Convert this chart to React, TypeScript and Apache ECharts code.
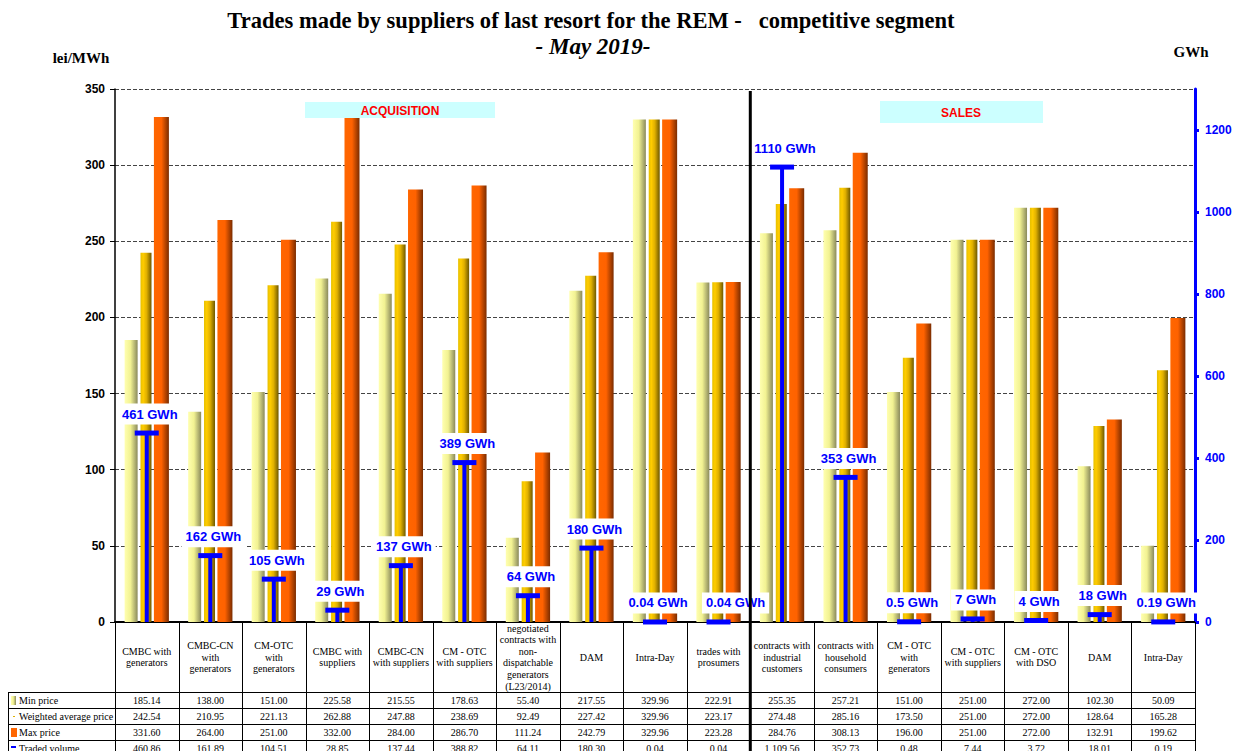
import React, { useEffect, useRef } from "react";
import * as echarts from "echarts";

const categoryLines: string[][] = [
  ["CMBC with", "generators"],
  ["CMBC-CN", "with", "generators"],
  ["CM-OTC", "with", "generators"],
  ["CMBC with", "suppliers"],
  ["CMBC-CN", "with suppliers"],
  ["CM - OTC", "with suppliers"],
  ["negotiated", "contracts with", "non-", "dispatchable", "generators", "(L23/2014)"],
  ["DAM"],
  ["Intra-Day"],
  ["trades with", "prosumers"],
  ["contracts with", "industrial", "customers"],
  ["contracts with", "household", "consumers"],
  ["CM - OTC", "with", "generators"],
  ["CM - OTC", "with suppliers"],
  ["CM - OTC", "with DSO"],
  ["DAM"],
  ["Intra-Day"],
];
const categories = categoryLines.map((l) => l.join(" "));

const minPrice = [185.14, 138.0, 151.0, 225.58, 215.55, 178.63, 55.4, 217.55, 329.96, 222.91, 255.35, 257.21, 151.0, 251.0, 272.0, 102.3, 50.09];
const avgPrice = [242.54, 210.95, 221.13, 262.88, 247.88, 238.69, 92.49, 227.42, 329.96, 223.17, 274.48, 285.16, 173.5, 251.0, 272.0, 128.64, 165.28];
const maxPrice = [331.6, 264.0, 251.0, 332.0, 284.0, 286.7, 111.24, 242.79, 329.96, 223.28, 284.76, 308.13, 196.0, 251.0, 272.0, 132.91, 199.62];
const tradedVolume = [460.86, 161.89, 104.51, 28.85, 137.44, 388.82, 64.11, 180.3, 0.04, 0.04, 1109.56, 352.73, 0.48, 7.44, 3.72, 18.01, 0.19];
const volumeLabels = ["461 GWh", "162 GWh", "105 GWh", "29 GWh", "137 GWh", "389 GWh", "64 GWh", "180 GWh", "0.04 GWh", "0.04 GWh", "1110 GWh", "353 GWh", "0.5 GWh", "7 GWh", "4 GWh", "18 GWh", "0.19 GWh"];
const volumeTicks = [0, 200, 400, 600, 800, 1000, 1200];
const rowLabels = ["Min price", "Weighted average price", "Max price", "Traded volume"];

const W = 1236;
const H = 751;
const L = 115;
const R = 1195;
const T = 89;
const B = 622;
const CW = (R - L) / categories.length;
const ROW_TOP = 692;
const ROW_H = 16;
const DIVIDER_INDEX = 10;

const SERIF = '"Liberation Serif", "Times New Roman", serif';
const SANS = '"Liberation Sans", Arial, sans-serif';

function fmt(v: number): string {
  const s = v.toFixed(2);
  const [ip, dp] = s.split(".");
  return ip.replace(/\B(?=(\d{3})+(?!\d))/g, " ") + "." + dp;
}

const grad = (stops: [number, string][]) =>
  new echarts.graphic.LinearGradient(0, 0, 1, 0, stops.map(([offset, color]) => ({ offset, color })));

const minGrad = () => grad([[0, "#ffffb0"], [0.45, "#f2f292"], [1, "#8a8a5c"]]);
const avgGrad = () => grad([[0, "#e6c000"], [0.25, "#ffcc00"], [0.55, "#e0b000"], [1, "#6e5800"]]);
const maxGrad = () => grad([[0, "#ff6600"], [0.5, "#ff6200"], [1, "#7a2c00"]]);

function txt(x: number, y: number, text: string, font: string, fill: string, align = "center", extra: any = {}) {
  return {
    type: "text",
    x,
    y,
    z: 20,
    silent: true,
    ...extra,
    style: {
      text,
      font,
      fill,
      align,
      verticalAlign: "middle",
      textAlign: align,
      textVerticalAlign: "middle",
      ...(extra.style || {}),
    },
  };
}

function ln(x1: number, y1: number, x2: number, y2: number, w = 1, color = "#000") {
  return {
    type: "line",
    z: 20,
    silent: true,
    shape: { x1, y1, x2, y2 },
    style: { stroke: color, lineWidth: w },
  };
}

function buildGraphic() {
  const g: any[] = [];
  // titles
  g.push(txt(591, 20, "Trades made by suppliers of last resort for the REM -   competitive segment", `bold 23px ${SERIF}`, "#000", "center", { scaleX: 0.98 }));
  g.push(txt(593, 46, "- May 2019-", `italic bold 23px ${SERIF}`, "#000", "center", { scaleX: 1.0 }));
  g.push(txt(81, 58, "lei/MWh", `bold 15px ${SERIF}`, "#000"));
  g.push(txt(1191, 52, "GWh", `bold 15px ${SERIF}`, "#000"));

  // section boxes
  g.push({ type: "rect", z: 19, silent: true, shape: { x: 305, y: 102, width: 190, height: 16 }, style: { fill: "#ccffff" } });
  g.push(txt(400, 110.5, "ACQUISITION", `bold 12px ${SANS}`, "#ff0000"));
  g.push({ type: "rect", z: 19, silent: true, shape: { x: 880, y: 101, width: 163, height: 22 }, style: { fill: "#ccffff" } });
  g.push(txt(961, 112.5, "SALES", `bold 12px ${SANS}`, "#ff0000"));

  // table: header cells
  for (let i = 0; i <= categories.length; i++) {
    const x = Math.round(L + i * CW) + 0.5;
    g.push(ln(x, B, x, H, 1));
  }
  categoryLines.forEach((lines, i) => {
    const cx = L + (i + 0.5) * CW;
    g.push(txt(cx, 657, lines.join("\n"), `10px ${SERIF}`, "#000", "center", { style: { lineHeight: 11.6 } }));
  });
  // horizontal rows
  for (let r = 0; r < 4; r++) {
    const y = ROW_TOP + r * ROW_H + 0.5;
    g.push(ln(8, y, R, y, 1));
  }
  g.push(ln(8.5, ROW_TOP, 8.5, H, 1));
  // row labels and icons
  const rowData = [minPrice, avgPrice, maxPrice, tradedVolume];
  rowLabels.forEach((label, r) => {
    const cy = ROW_TOP + r * ROW_H + ROW_H / 2 + 0.5;
    g.push(txt(19, cy, label, `10px ${SERIF}`, "#000", "left"));
    rowData[r].forEach((v, i) => {
      const cx = L + (i + 0.5) * CW;
      g.push(txt(cx, cy, fmt(v), `10px ${SERIF}`, "#000"));
    });
  });
  g.push({ type: "rect", z: 20, silent: true, shape: { x: 11, y: ROW_TOP + 4, width: 5, height: 9 }, style: { fill: minGrad() } });
  g.push({ type: "rect", z: 20, silent: true, shape: { x: 13, y: ROW_TOP + ROW_H + 8, width: 2, height: 1 }, style: { fill: "#e0b000" } });
  g.push({ type: "rect", z: 20, silent: true, shape: { x: 11, y: ROW_TOP + 2 * ROW_H + 4, width: 6, height: 9 }, style: { fill: "#ff6600" } });
  g.push({ type: "rect", z: 20, silent: true, shape: { x: 11, y: ROW_TOP + 3 * ROW_H + 6, width: 5, height: 2 }, style: { fill: "#0000ff" } });

  // divider between acquisition and sales
  const dx = L + DIVIDER_INDEX * CW;
  g.push(ln(dx, 91, dx, H, 3));
  return g;
}

export default function App() {
  const ref = useRef<HTMLDivElement>(null);
  useEffect(() => {
    if (!ref.current) return;
    const chart = echarts.init(ref.current, undefined, { renderer: "svg" });
    const option: any = {
      animation: false,
      backgroundColor: "#ffffff",
      grid: { left: L, right: W - R, top: T, bottom: H - B, containLabel: false },
      xAxis: {
        type: "category",
        data: categories,
        axisLine: { lineStyle: { color: "#000", width: 2 } },
        axisTick: { show: false },
        axisLabel: { show: false },
        splitLine: { show: false },
      },
      yAxis: [
        {
          type: "value",
          min: 0,
          max: 350,
          interval: 50,
          position: "left",
          axisLine: { show: true, lineStyle: { color: "#000", width: 1.5 } },
          axisTick: { show: true, length: 5, lineStyle: { color: "#000" } },
          axisLabel: { color: "#000", fontFamily: SANS, fontWeight: "bold", fontSize: 12, margin: 10 },
          splitLine: { show: true, lineStyle: { color: "#444", width: 1, type: [4, 2] } },
        },
        {
          type: "value",
          min: 0,
          max: 1300,
          interval: 200,
          position: "right",
          axisLine: { show: true, lineStyle: { color: "#0000ff", width: 3 } },
          axisTick: { show: true, length: 4, customValues: volumeTicks, lineStyle: { color: "#0000ff", width: 3 } },
          axisLabel: {
            color: "#0000ff",
            fontFamily: SANS,
            fontWeight: "bold",
            fontSize: 12,
            margin: 10,
            customValues: volumeTicks,
            formatter: (v: number) => (volumeTicks.includes(v) ? String(v) : ""),
          },
          splitLine: { show: false },
        },
      ],
      series: [
        {
          name: "Min price",
          type: "bar",
          data: minPrice,
          barWidth: 13,
          barGap: "22%",
          itemStyle: { color: minGrad() },
          z: 2,
        },
        {
          name: "Weighted average price",
          type: "bar",
          data: avgPrice,
          barWidth: 11,
          barGap: "22%",
          itemStyle: { color: avgGrad() },
          z: 2,
        },
        {
          name: "Max price",
          type: "bar",
          data: maxPrice,
          barWidth: 15,
          barGap: "22%",
          itemStyle: { color: maxGrad() },
          z: 2,
        },
        {
          name: "Traded volume",
          type: "custom",
          yAxisIndex: 1,
          z: 10,
          clip: false,
          data: tradedVolume.map((v, i) => [i, v]),
          encode: { x: 0, y: 1 },
          renderItem: (params: any, api: any) => {
            const idx = api.value(0);
            const v = api.value(1);
            const top = api.coord([idx, v]);
            const base = api.coord([idx, 0]);
            const x = top[0];
            const labelShift = params.dataIndex === 9 ? 17 : 3;
            return {
              type: "group",
              children: [
                { type: "line", shape: { x1: x, y1: base[1], x2: x, y2: top[1] }, style: { stroke: "#0000ff", lineWidth: 4 } },
                { type: "line", shape: { x1: x - 12, y1: top[1], x2: x + 12, y2: top[1] }, style: { stroke: "#0000ff", lineWidth: 5 } },
                {
                  type: "text",
                  x: x + labelShift,
                  y: top[1] - 19,
                  style: {
                    text: volumeLabels[params.dataIndex],
                    fill: "#0000ff",
                    font: `bold 13px ${SANS}`,
                    align: "center",
                    verticalAlign: "middle",
                    backgroundColor: "#ffffff",
                    padding: [4, 4],
                  },
                },
              ],
            };
          },
        },
      ],
      graphic: { elements: buildGraphic() },
    };
    chart.setOption(option);
    return () => chart.dispose();
  }, []);
  return <div ref={ref} style={{ position: "fixed", left: 0, top: 0, width: W, height: H }} />;
}
